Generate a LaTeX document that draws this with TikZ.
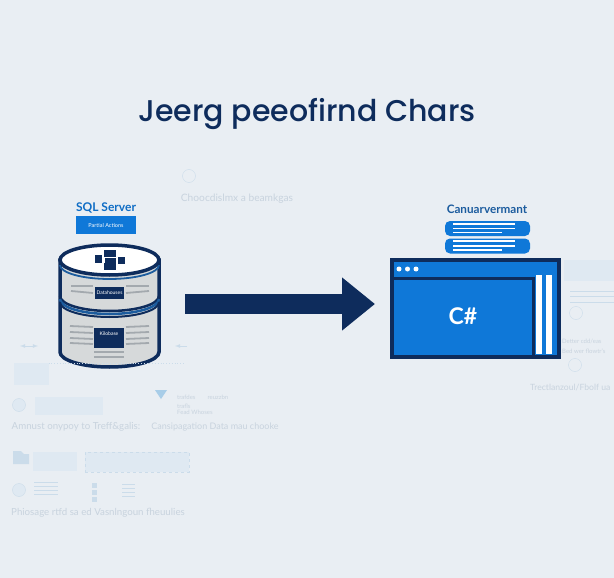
\documentclass[tikz,border=0pt]{standalone}
\usepackage{fontspec}
\setmainfont{Lato}
\newfontfamily\titlefont{Poppins}[UprightFont=* Medium]
\usetikzlibrary{arrows.meta}
\definecolor{page_bg}{HTML}{E9EEF3}
\definecolor{navy}{HTML}{0E2C5C}
\definecolor{mid_blue}{HTML}{1C5C9E}
\definecolor{app_blue}{HTML}{0F78D8}
\definecolor{barrel_grey}{HTML}{D6D9DA}
\definecolor{line_grey}{HTML}{A3A9AE}
\definecolor{faint_blue}{HTML}{DFE9F2}
\definecolor{faint_line}{HTML}{CBDCEA}
\definecolor{faint_text}{HTML}{C8D3DE}
\definecolor{funnel_blue}{HTML}{A8CDE8}
\tikzset{
  arrow_main/.style={-{Triangle[length=33pt,width=51pt]}, line width=20pt, color=navy, shorten <=24pt, shorten >=15pt},
  arrow_faint/.style={-latex, thick, color=faint_line},
  title_text/.style={draw=none, inner sep=0, text=navy, font=\titlefont\fontsize{30}{30}\selectfont},
  faint_label/.style={draw=none, inner sep=0, text=faint_text, font=\fontsize{9.7}{9.7}\selectfont},
  faint_tiny/.style={draw=none, inner sep=0, text=faint_text, font=\fontsize{6}{6}\selectfont},
  faint_box/.style={draw=none, fill=faint_blue, inner sep=0},
  faint_circle/.style={circle, draw=faint_line, fill=faint_blue, minimum size=13pt, inner sep=0},
  faint_rule/.style={color=faint_line, line width=0.8pt},
  tag_box/.style={fill=navy, text=white, inner sep=0, font=\fontsize{5}{5}\selectfont},
  grey_rule/.style={color=line_grey, line width=1.8pt},
  pill_box/.style={rounded corners=5pt, fill=app_blue, draw=none, minimum width=85pt, minimum height=15pt, inner sep=0},
  pill_rule/.style={color=white, line width=1.3pt},
  dot_point/.style={circle, fill=white, minimum size=5pt, inner sep=0},
  icon_square/.style={fill=navy, inner sep=0}
}
\begin{document}
\begin{tikzpicture}[x=1pt, y=-1pt]
\fill[page_bg] (0,0) rectangle (614,578);
\useasboundingbox (0,0) rectangle (614,578);

\node[title_text] at (307,114) (title) {Jeerg peeofirnd Chars};

%%% database
\node[draw=none, inner sep=0, text=app_blue!85!navy, font=\bfseries\fontsize{12}{12}\selectfont] at (106,208) (sql_label) {SQL Server};
\node[fill=app_blue, text=white, minimum width=60pt, minimum height=18pt, inner sep=0, font=\fontsize{5.5}{5.5}\selectfont] at (106,225) (sql_tag) {Partial Actions};

\node[draw=none, minimum width=103pt, minimum height=124pt, inner sep=0] at (109.5,304) (sql_db) {};

\draw[navy, line width=3.5pt, fill=barrel_grey] (60,260) -- (60,352) arc[start angle=180, end angle=0, x radius=49.5, y radius=15] -- (159,260) -- cycle;
\draw[navy, line width=2.5pt] (60,296) arc[start angle=180, end angle=0, x radius=49.5, y radius=15];
\draw[mid_blue, line width=2.5pt] (60,299) arc[start angle=180, end angle=0, x radius=49.5, y radius=15];
\draw[navy, line width=2pt] (60,302) arc[start angle=180, end angle=0, x radius=49.5, y radius=15];
\draw[mid_blue, line width=1.8pt] (60,265) arc[start angle=180, end angle=0, x radius=49.5, y radius=14];
\draw[navy, line width=3.5pt, fill=white] (109.5,260) ellipse[x radius=49.5, y radius=15];

% top icon
\node[icon_square, minimum width=12pt, minimum height=7pt] at (110,253) (icon_t) {};
\node[icon_square, minimum width=7pt, minimum height=8pt] at (98.5,259) (icon_l) {};
\node[icon_square, minimum width=11pt, minimum height=5pt] at (110,260) (icon_m) {};
\node[icon_square, minimum width=7pt, minimum height=7pt] at (121,260) (icon_r) {};
\node[icon_square, minimum width=12pt, minimum height=7pt] at (110,266) (icon_b) {};

% labels and rules on the barrel
\node[tag_box, minimum width=29pt, minimum height=12pt] at (109.5,293) (db_upper) {Datahouses};
\node[tag_box, minimum width=30pt, minimum height=20pt, text depth=9pt] at (109,338) (db_lower) {Kilobase};
\foreach \y/\d in {286/0,291/2} {
  \draw[grey_rule] (71,\y) -- (93,\y+\d);
  \draw[grey_rule] (126,\y+\d) -- (149,\y);
}
\foreach \y in {326,332,338,343} {
  \draw[grey_rule] (70,\y) -- (93,\y+1);
  \draw[grey_rule] (126,\y+1) -- (149,\y);
}
\draw[grey_rule] (94,352) -- (124,352);
\draw[grey_rule] (94,357) -- (124,357);

%%% application window
\node[draw=none, inner sep=0, text=mid_blue, font=\bfseries\fontsize{11.7}{11.7}\selectfont] at (487,209) (app_label) {Canuarvermant};
\node[pill_box] at (487.5,228.5) (pill_a) {};
\node[pill_box] at (487.5,246) (pill_b) {};
\foreach \y/\w in {224/515,228.5/515,232.5/502} {
  \draw[pill_rule] (453,\y) -- (\w,\y);
}
\foreach \y/\w in {241/515,246/515,250/502} {
  \draw[pill_rule] (453,\y) -- (\w,\y);
}

\node[draw=navy, fill=app_blue, line width=4pt, minimum width=167pt, minimum height=97pt, inner sep=0] at (475.5,308.5) (app_window) {};
\draw[navy, line width=3pt] (392,278) -- (533,278) -- (533,357);
\node[dot_point] at (399,269) (dot_a) {};
\node[dot_point] at (407.5,269) (dot_b) {};
\node[dot_point] at (416,269) (dot_c) {};
\fill[white] (536,275) rectangle (541.5,354);
\fill[white] (546,275) rectangle (552,354);
\node[draw=none, inner sep=0, text=white, font=\bfseries\fontsize{23}{23}\selectfont] at (463,316) (app_text) {C\#};

%%% main arrow
\draw[arrow_main] (sql_db.east) -- (sql_db.east -| app_window.west);

%%% faint background items, top
\node[faint_circle, fill=none] at (189,176) (c_top) {};
\node[faint_label, font=\fontsize{10.2}{10.2}\selectfont] at (237,199) (t_top) {Choocdislmx a beamkgas};

%%% faint items, right
\node[faint_box, minimum width=50pt, minimum height=21pt] at (589,270.5) (r_box) {};
\foreach \y in {291,296,302} {
  \draw[faint_rule] (570,\y) -- (614,\y);
}
\node[faint_circle, fill=none] at (576,313) (r_c1) {};
\node[faint_tiny, anchor=west] at (562,341) (r_t1) {Detter cdd/eas};
\node[faint_tiny, anchor=west] at (562,351) (r_t2) {Bed wer flowtr's};
\node[faint_circle, fill=none] at (575,365) (r_c2) {};
\node[faint_label, anchor=west, font=\fontsize{8.6}{8.6}\selectfont] at (530,388) (r_t3) {Trectlanzoul/Fbolf ua};

%%% faint items, left
\coordinate (a_l) at (20,346);
\coordinate (a_r) at (38,346);
\coordinate (b_r) at (187,346);
\coordinate (b_l) at (175,346);
\coordinate (d_l) at (15,363);
\coordinate (d_r) at (185,363);
\draw[arrow_faint, latex-latex] (a_l) -- (a_r);
\draw[arrow_faint] (b_r) -- (b_l);
\draw[faint_rule, dotted] (d_l) -- (d_r);
\node[faint_box, minimum width=35pt, minimum height=22pt, anchor=north west] at (14,363) (l_box) {};

%%% faint items, row two
\node[faint_circle] at (19,405) (c_a) {};
\node[faint_box, minimum width=68pt, minimum height=18pt, anchor=north west] at (35,397) (box_a) {};
\fill[funnel_blue] (155,390) -- (167,390) -- (161,399) -- cycle;
\node[faint_tiny, anchor=west] at (177,397) (t_a) {trafdes\quad\quad reuzzbn};
\node[faint_tiny, anchor=west] at (177,406) (t_b) {trafls};
\node[faint_tiny, anchor=west] at (177,412) (t_c) {Fead Whoses};
\node[faint_label] at (76,427) (t_d) {Amnust onypoy to Treff\&galis:};
\node[faint_label, font=\fontsize{9}{9}\selectfont] at (215,427) (t_e) {Cansipagation Data mau chooke};

%%% faint items, row three
\fill[faint_line] (13,451) -- (21,451) -- (24,454) -- (29,454) -- (29,464) -- (13,464) -- cycle;
\node[faint_box, minimum width=44pt, minimum height=19pt, anchor=north west] at (33,452) (box_b) {};
\node[faint_box, draw=faint_line, dashed, minimum width=104pt, minimum height=20pt, anchor=north west] at (85,452) (box_c) {};
\node[faint_circle] at (19,490) (c_b) {};
\foreach \y in {482,486,490,494} {
  \draw[faint_rule] (34,\y) -- (58,\y);
}
\foreach \y in {485,492,499} {
  \node[fill=faint_line, minimum size=5pt, inner sep=0] at (94,\y) {};
}
\foreach \y in {484,488,492,496} {
  \draw[faint_rule] (122,\y) -- (135,\y);
}
\node[faint_label] at (98,513) (t_f) {Phiosage rtfd sa ed Vasnlngoun fheuulies};
\end{tikzpicture}
\end{document}
